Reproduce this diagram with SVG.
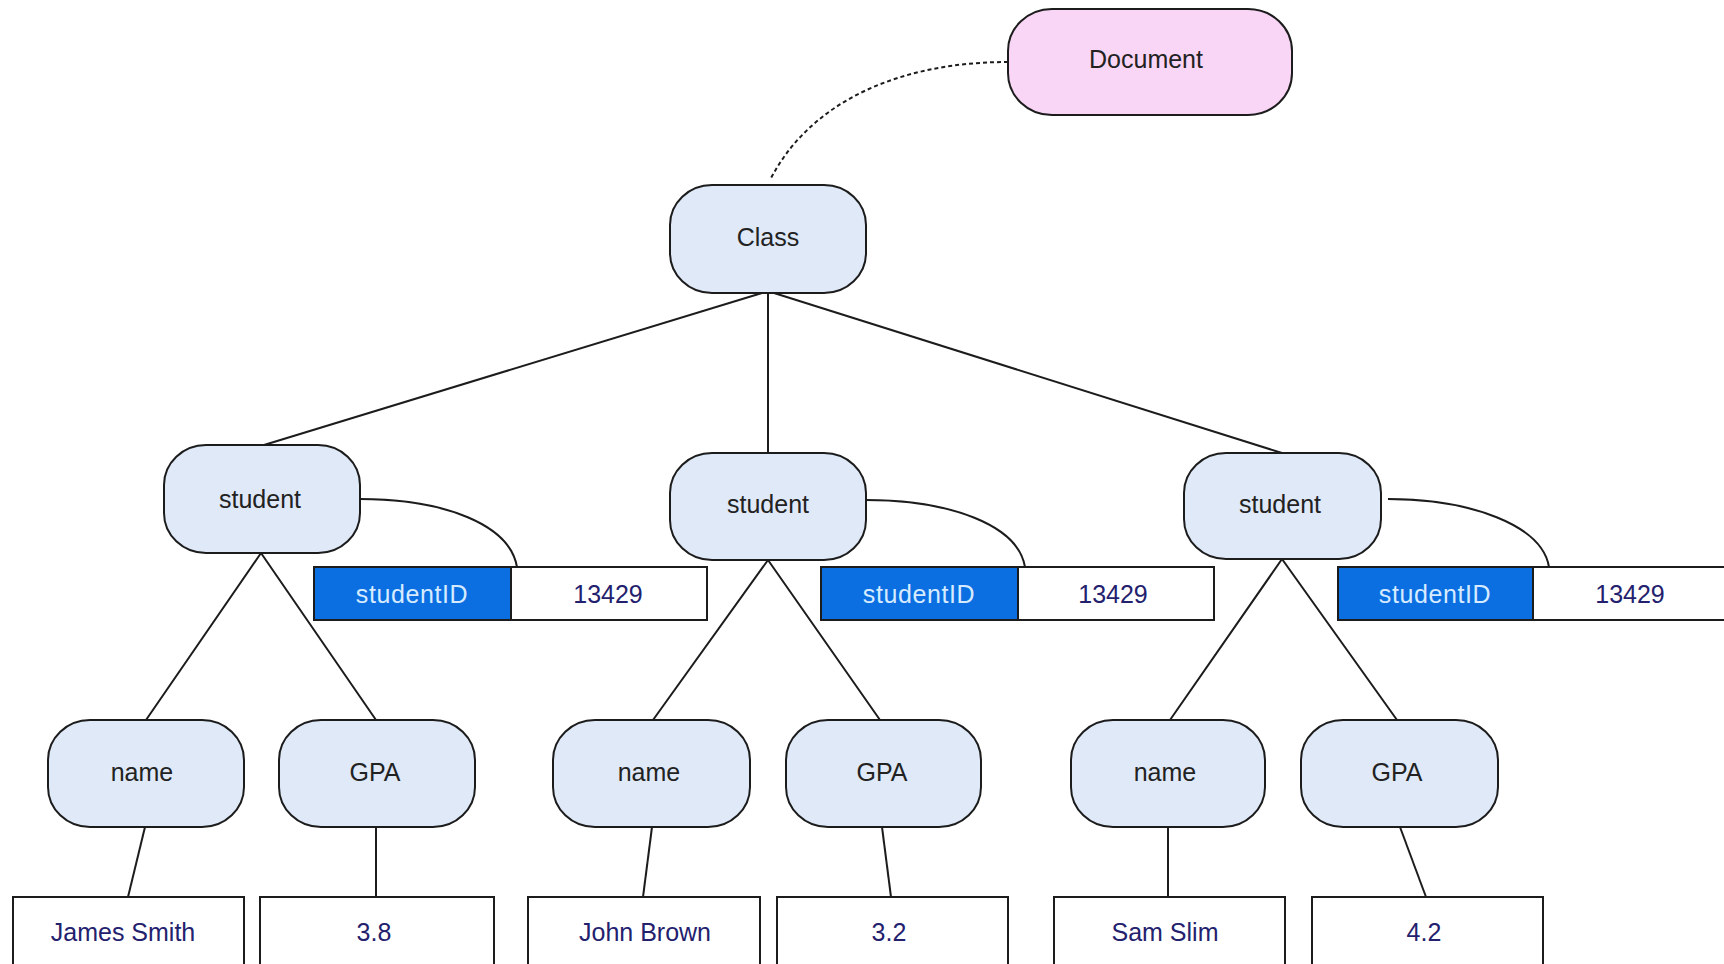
<svg xmlns="http://www.w3.org/2000/svg" width="1724" height="964" viewBox="0 0 1724 964">
  <defs>
    <style>
      .node { fill: #dfe9f8; stroke: #1c1c1c; stroke-width: 2; }
      .doc { fill: #f9d6f6; stroke: #1c1c1c; stroke-width: 2; }
      .key { fill: #0b6fe2; stroke: #1c1c1c; stroke-width: 2; }
      .val { fill: #ffffff; stroke: #1c1c1c; stroke-width: 2; }
      .link { fill: none; stroke: #1c1c1c; stroke-width: 2; }
      .dash { fill: none; stroke: #1c1c1c; stroke-width: 2; stroke-dasharray: 4 3; }
      text { font-family: "Liberation Sans", Arial, sans-serif; font-size: 25px; text-anchor: middle; }
      .lbl { fill: #222222; }
      .keyt { fill: #d6ebff; letter-spacing: 0.6px; }
      .valt { fill: #23216e; }
    </style>
  </defs>
  <rect width="1724" height="964" fill="#ffffff"/>

  <!-- connectors -->
  <g id="connectors">
    <path class="dash" d="M1008,62 C905,62 812,98 770,180"/>
    <path class="link" d="M762,293 L264,445"/>
    <path class="link" d="M768,293 L768,453"/>
    <path class="link" d="M774,293 L1282,453"/>
    <path class="link" d="M261,553 L146,720 M261,553 L376,720"/>
    <path class="link" d="M768,560 L653,720 M768,560 L880,720"/>
    <path class="link" d="M1282,559 L1170,720 M1282,559 L1397,720"/>
    <path class="link" d="M145,827 L128,897"/>
    <path class="link" d="M376,827 L376,897"/>
    <path class="link" d="M652,827 L643,897"/>
    <path class="link" d="M882,827 L891,897"/>
    <path class="link" d="M1168,827 L1168,897"/>
    <path class="link" d="M1400,827 L1426,897"/>
    <path class="link" d="M360,499 C445,499 510,525 517,567"/>
    <path class="link" d="M866,500 C950,500 1018,525 1025,567"/>
    <path class="link" d="M1388,499 C1470,499 1542,525 1549,567"/>
  </g>

  <g id="document">
    <rect class="doc" x="1008" y="9" width="284" height="106" rx="44" ry="42"/>
    <text class="lbl" x="1146" y="68">Document</text>
  </g>

  <g id="class">
    <rect class="node" x="670" y="185" width="196" height="108" rx="42" ry="40"/>
    <text class="lbl" x="768" y="246">Class</text>
  </g>

  <!-- student elements -->
  <g id="student-1">
    <rect class="node" x="164" y="445" width="196" height="108" rx="42" ry="40"/>
    <text class="lbl" x="260" y="508">student</text>
  </g>
  <g id="student-2">
    <rect class="node" x="670" y="453" width="196" height="107" rx="42" ry="40"/>
    <text class="lbl" x="768" y="513">student</text>
  </g>
  <g id="student-3">
    <rect class="node" x="1184" y="453" width="197" height="106" rx="42" ry="40"/>
    <text class="lbl" x="1280" y="513">student</text>
  </g>

  <!-- studentID attributes -->
  <g id="attr-1">
    <rect class="val" x="511" y="567" width="196" height="53"/>
    <rect class="key" x="314" y="567" width="197" height="53"/>
    <text class="keyt" x="412" y="603">studentID</text>
    <text class="valt" x="608" y="603">13429</text>
  </g>
  <g id="attr-2">
    <rect class="val" x="1018" y="567" width="196" height="53"/>
    <rect class="key" x="821" y="567" width="197" height="53"/>
    <text class="keyt" x="919" y="603">studentID</text>
    <text class="valt" x="1113" y="603">13429</text>
  </g>
  <g id="attr-3">
    <rect class="val" x="1533" y="567" width="220" height="53"/>
    <rect class="key" x="1338" y="567" width="195" height="53"/>
    <text class="keyt" x="1435" y="603">studentID</text>
    <text class="valt" x="1630" y="603">13429</text>
  </g>

  <!-- name / GPA elements -->
  <g id="name-1">
    <rect class="node" x="48" y="720" width="196" height="107" rx="42" ry="40"/>
    <text class="lbl" x="142" y="781">name</text>
  </g>
  <g id="gpa-1">
    <rect class="node" x="279" y="720" width="196" height="107" rx="42" ry="40"/>
    <text class="lbl" x="375" y="781">GPA</text>
  </g>
  <g id="name-2">
    <rect class="node" x="553" y="720" width="197" height="107" rx="42" ry="40"/>
    <text class="lbl" x="649" y="781">name</text>
  </g>
  <g id="gpa-2">
    <rect class="node" x="786" y="720" width="195" height="107" rx="42" ry="40"/>
    <text class="lbl" x="882" y="781">GPA</text>
  </g>
  <g id="name-3">
    <rect class="node" x="1071" y="720" width="194" height="107" rx="42" ry="40"/>
    <text class="lbl" x="1165" y="781">name</text>
  </g>
  <g id="gpa-3">
    <rect class="node" x="1301" y="720" width="197" height="107" rx="42" ry="40"/>
    <text class="lbl" x="1397" y="781">GPA</text>
  </g>

  <!-- text values -->
  <g id="value-1">
    <rect class="val" x="13" y="897" width="231" height="90"/>
    <text class="valt" x="123" y="941">James Smith</text>
  </g>
  <g id="value-2">
    <rect class="val" x="260" y="897" width="234" height="90"/>
    <text class="valt" x="374" y="941">3.8</text>
  </g>
  <g id="value-3">
    <rect class="val" x="528" y="897" width="232" height="90"/>
    <text class="valt" x="645" y="941">John Brown</text>
  </g>
  <g id="value-4">
    <rect class="val" x="777" y="897" width="231" height="90"/>
    <text class="valt" x="889" y="941">3.2</text>
  </g>
  <g id="value-5">
    <rect class="val" x="1054" y="897" width="231" height="90"/>
    <text class="valt" x="1165" y="941">Sam Slim</text>
  </g>
  <g id="value-6">
    <rect class="val" x="1312" y="897" width="231" height="90"/>
    <text class="valt" x="1424" y="941">4.2</text>
  </g>
</svg>
